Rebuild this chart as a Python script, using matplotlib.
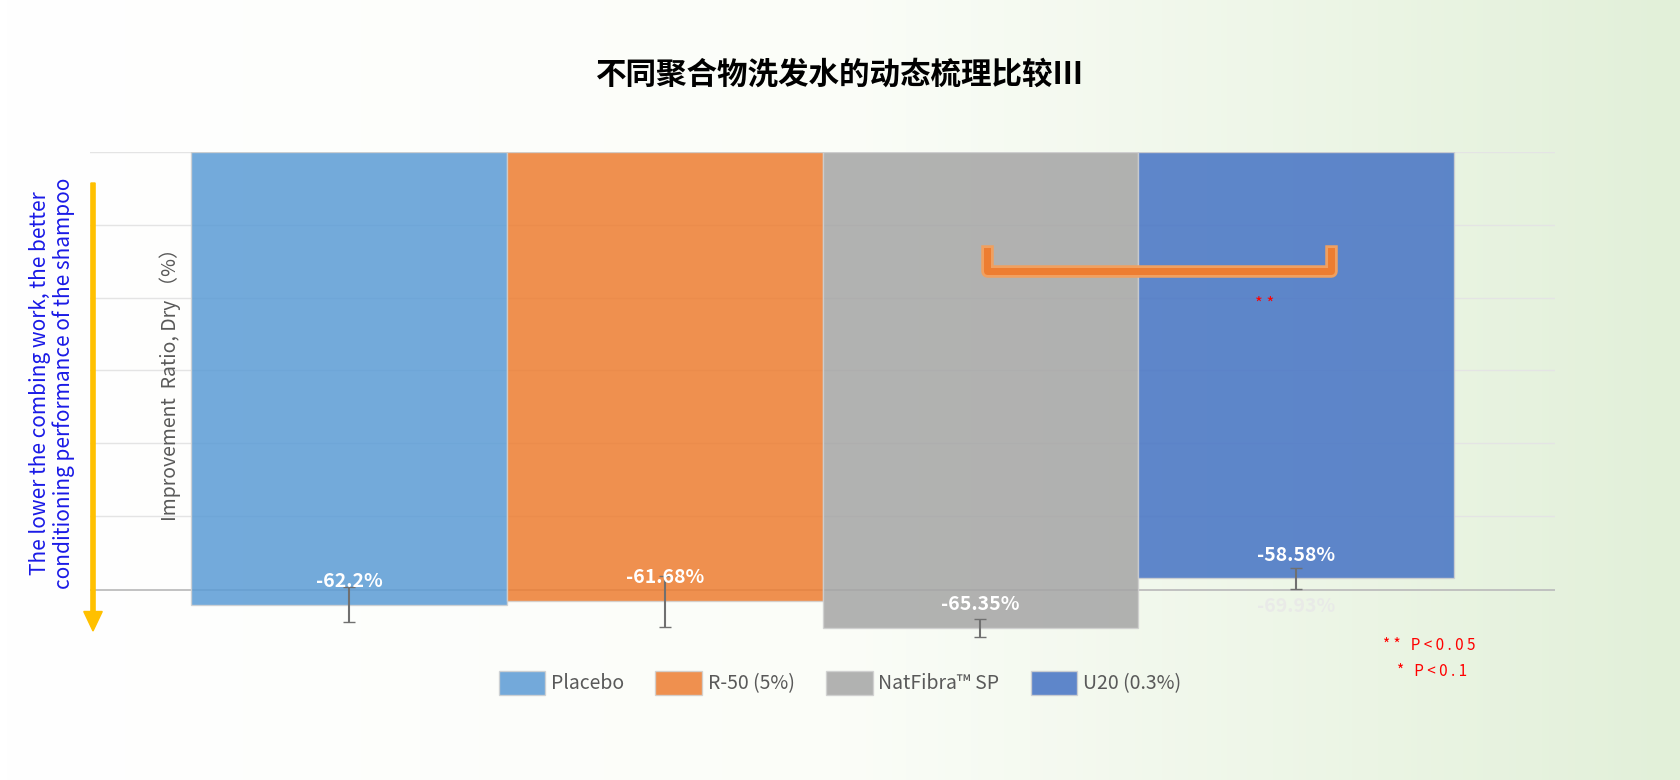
import matplotlib
matplotlib.use("Agg")
import matplotlib.pyplot as plt
import numpy as np
from matplotlib.patches import FancyArrow
from matplotlib.colors import LinearSegmentedColormap

plt.rcParams['font.family'] = ['Noto Sans CJK SC', 'DejaVu Sans']

categories = ["Placebo", "R-50 (5%)", "NatFibra™ SP", "U20 (0.3%)"]
values = [62.2, 61.68, 65.35, 58.58]
errors = [2.4, 3.5, 1.2, 1.5]
labels = ["-62.2%", "-61.68%", "-65.35%", "-58.58%"]
extra_label = "-69.93%"
colors = ["#5B9BD5", "#ED7D31", "#A5A5A5", "#4472C4"]

fig = plt.figure(figsize=(16.8, 7.8), dpi=100)
bg = fig.add_axes([0, 0, 1, 1], zorder=-10)
grad = np.linspace(0, 1, 256)[None, :]
cm = LinearSegmentedColormap.from_list("g", ["#FFFFFF", "#FBFDF8", "#E2F0D9"])
bg.imshow(grad, aspect='auto', cmap=cm, extent=[0, 1, 0, 1])
bg.axis('off')

ax = fig.add_axes([90/1680, 1-640/780, 1465/1680, 488/780])
ax.patch.set_alpha(0)
x = np.arange(len(categories))
for i in x:
    ax.bar(i, values[i], width=1.0, color=colors[i], alpha=0.85, edgecolor='#D0D0D0', linewidth=1, zorder=2, label=categories[i])
    ax.errorbar(i, values[i], yerr=errors[i], fmt='none', ecolor='#707070', elinewidth=1.5, capsize=4, zorder=3)
    ax.text(i, values[i]-3.2, labels[i], color='white', fontsize=14, fontweight='bold', ha='center', va='center', zorder=4)
ax.text(3, 62.4, extra_label, color='#E8E8E8', fontsize=14, fontweight='bold', ha='center', va='center', zorder=4, alpha=0.8)
ax.set_xlim(-0.82, 3.82)
ax.set_ylim(67.03, 0)
for g in range(0, 60, 10):
    ax.axhline(g, color='#E4E4E4', lw=1, zorder=1)
ax.axhline(60.2, color='#BDBDBD', lw=1.3, zorder=1)
for s in ax.spines.values():
    s.set_visible(False)
ax.set_xticks([]); ax.set_yticks([])

bx0, bx1 = 2.02, 3.11
ax.plot([bx0, bx0, bx1, bx1], [13.6, 16.4, 16.4, 13.6], color='#F0A060', lw=9, solid_joinstyle='round', zorder=5)
ax.plot([bx0, bx0, bx1, bx1], [13.6, 16.4, 16.4, 13.6], color='#ED7D31', lw=5, solid_joinstyle='round', zorder=6)
ax.text(2.9, 20.9, "* *", color='red', fontsize=12, ha='center', va='center', zorder=6)

fig.text(0.5, 1-75/780, "不同聚合物洗发水的动态梳理比较Ⅲ", fontsize=22, fontweight='bold', ha='center', va='center')
fig.text(170/1680, 1-380/780, "Improvement  Ratio, Dry （%）", rotation=90, fontsize=14, color='#595959', ha='center', va='center')
fig.text(52/1680, 1-383/780, "The lower the combing work, the better\nconditioning performance of the shampoo",
         rotation=90, fontsize=15, color='#1A1AE6', ha='center', va='center', linespacing=1.05)
arr = FancyArrow(93/1680, 1-183/780, 0, -(448/780), width=0.0025, head_width=0.011, head_length=0.025,
                 length_includes_head=True, color='#FFC000', transform=fig.transFigure)
fig.add_artist(arr)
fig.text(1383/1680, 1-645/780, "* *   P < 0 . 0 5", color='red', fontsize=11, ha='left', va='center')
fig.text(1397/1680, 1-672/780, "*   P < 0 . 1", color='red', fontsize=11, ha='left', va='center')

fig.legend(loc='center', bbox_to_anchor=(0.5, 1-683/780), ncol=4, frameon=False, fontsize=14,
           handlelength=2.4, handleheight=1.6, columnspacing=1.6, handletextpad=0.3, labelcolor='#595959')
fig.savefig("out.png", dpi=100)
